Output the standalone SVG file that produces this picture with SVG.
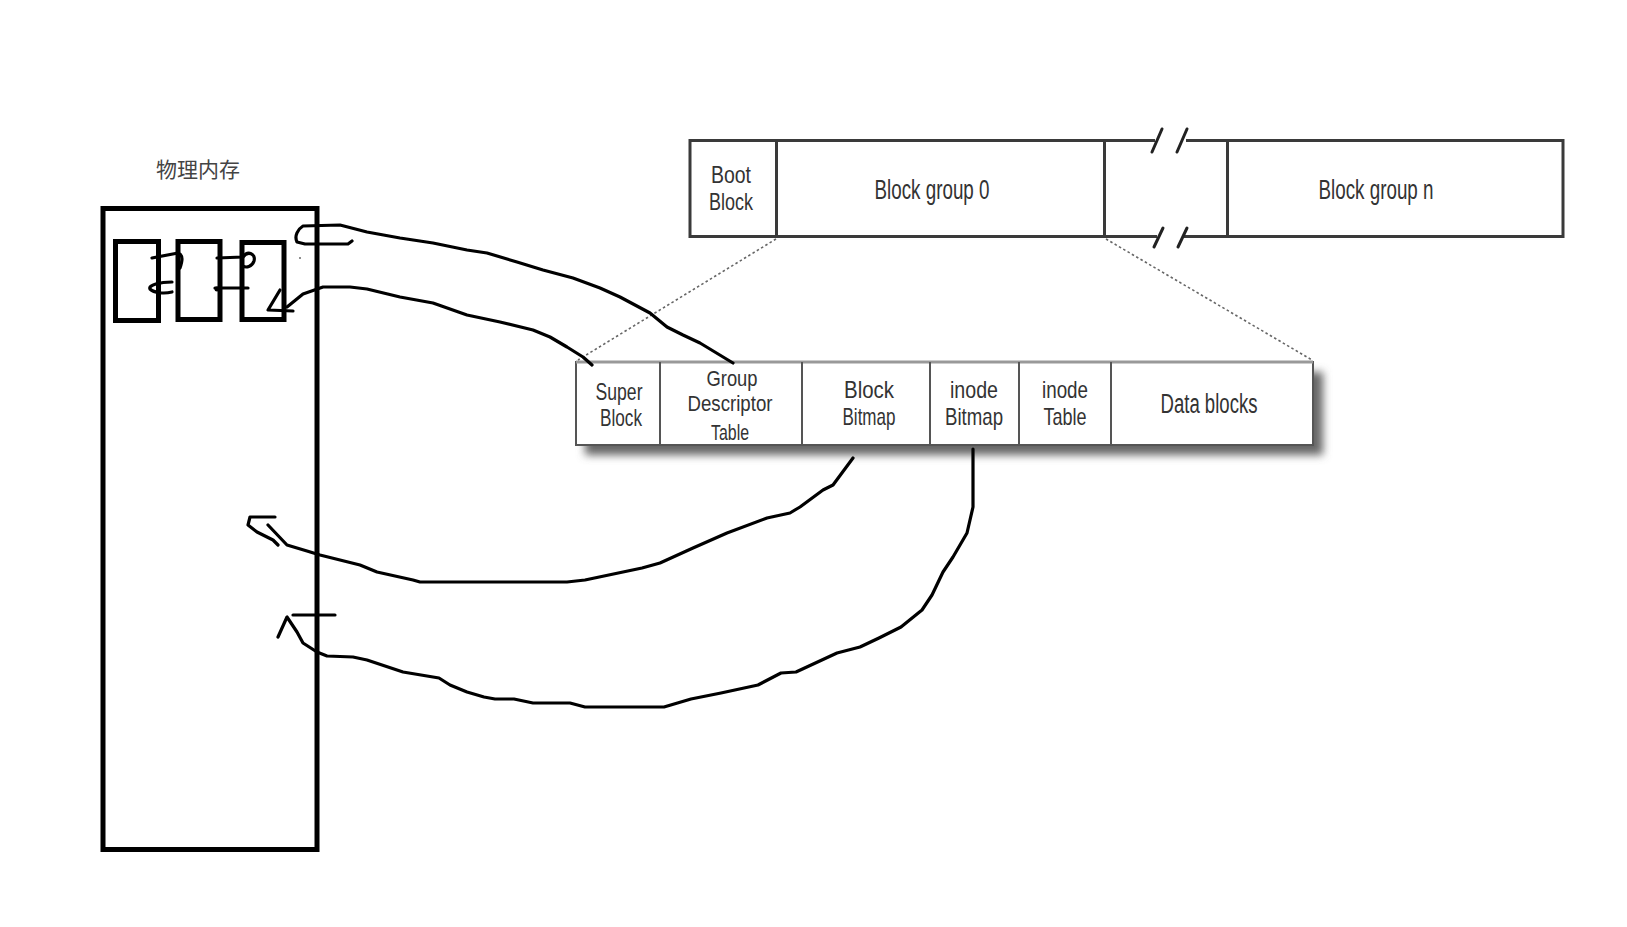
<svg xmlns="http://www.w3.org/2000/svg" width="1627" height="927" viewBox="0 0 1627 927">
<defs>
<style>
.lbl{font-family:"Liberation Sans",Arial,sans-serif;font-size:27px;fill:#333;text-anchor:middle}
.sm{font-size:24px}
.xs{font-size:22px}
.cjk{font-family:"Noto Sans CJK SC","Noto Sans",sans-serif;font-size:21px;fill:#444}
.top{fill:#fff;stroke:#3a3a3a;stroke-width:3}
.sub{fill:#fff;stroke:#555;stroke-width:2}
.dot{fill:none;stroke:#666;stroke-width:1.6;stroke-dasharray:2.5 2.5}
.ink{fill:none;stroke:#000;stroke-width:3.2;stroke-linecap:round;stroke-linejoin:round}
.mem{fill:#fff;stroke:#000;stroke-width:5}
.cell{fill:#fff;stroke:#000;stroke-width:5}
</style>
<filter id="shadow" x="-5%" y="-30%" width="115%" height="170%">
<feGaussianBlur stdDeviation="4"/>
</filter>
</defs>

<g id="memory">
<text class="cjk" x="156" y="177">物理内存</text>
<rect class="mem" x="103" y="208.5" width="214" height="641"/>
<rect class="cell" x="115.5" y="241.5" width="43" height="79"/>
<rect class="cell" x="178" y="241.5" width="42" height="78"/>
<rect class="cell" x="242" y="242.5" width="42" height="77"/>
</g>

<g id="disk-top">
<rect class="top" x="690" y="140.5" width="873" height="96"/>
<rect x="1148" y="136" width="46" height="8" fill="#fff"/>
<rect x="1148" y="233" width="46" height="8" fill="#fff"/>
<line x1="1104.5" y1="140.5" x2="1155" y2="140.5" stroke="#3a3a3a" stroke-width="3"/>
<line x1="1186" y1="140.5" x2="1228" y2="140.5" stroke="#3a3a3a" stroke-width="3"/>
<line x1="1104.5" y1="236.5" x2="1157" y2="236.5" stroke="#3a3a3a" stroke-width="3"/>
<line x1="1184" y1="236.5" x2="1228" y2="236.5" stroke="#3a3a3a" stroke-width="3"/>
<line x1="776.5" y1="140.5" x2="776.5" y2="236.5" stroke="#3a3a3a" stroke-width="3"/>
<line x1="1104.5" y1="140.5" x2="1104.5" y2="236.5" stroke="#3a3a3a" stroke-width="3"/>
<line x1="1227.5" y1="140.5" x2="1227.5" y2="236.5" stroke="#3a3a3a" stroke-width="3"/>
<g stroke="#222" stroke-width="3" stroke-linecap="round">
<line x1="1152" y1="152" x2="1162" y2="129"/>
<line x1="1177" y1="152" x2="1187" y2="129"/>
<line x1="1154" y1="247" x2="1163" y2="228"/>
<line x1="1178" y1="247" x2="1187" y2="228"/>
</g>
<text class="lbl sm" x="731" y="183" textLength="40" lengthAdjust="spacingAndGlyphs">Boot</text>
<text class="lbl sm" x="731" y="210" textLength="44" lengthAdjust="spacingAndGlyphs">Block</text>
<text class="lbl" x="932" y="199" textLength="115" lengthAdjust="spacingAndGlyphs">Block group 0</text>
<text class="lbl" x="1376" y="199" textLength="115" lengthAdjust="spacingAndGlyphs">Block group n</text>
</g>

<g id="group-detail">
<rect x="585" y="372" width="738" height="83" fill="#666" filter="url(#shadow)"/>
<rect class="sub" x="576" y="362" width="737" height="83"/>
<line x1="576" y1="362" x2="1313" y2="362" stroke="#999" stroke-width="3"/>
<g stroke="#555" stroke-width="2">
<line x1="660" y1="362" x2="660" y2="445"/>
<line x1="802" y1="362" x2="802" y2="445"/>
<line x1="930" y1="362" x2="930" y2="445"/>
<line x1="1019" y1="362" x2="1019" y2="445"/>
<line x1="1111" y1="362" x2="1111" y2="445"/>
</g>
<text class="lbl sm" x="619" y="400" textLength="47" lengthAdjust="spacingAndGlyphs">Super</text>
<text class="lbl sm" x="621" y="426" textLength="42" lengthAdjust="spacingAndGlyphs">Block</text>
<text class="lbl xs" x="732" y="386" textLength="51" lengthAdjust="spacingAndGlyphs">Group</text>
<text class="lbl xs" x="730" y="411" textLength="85" lengthAdjust="spacingAndGlyphs">Descriptor</text>
<text class="lbl xs" x="730" y="440" textLength="38" lengthAdjust="spacingAndGlyphs">Table</text>
<text class="lbl sm" x="869" y="398" textLength="50" lengthAdjust="spacingAndGlyphs">Block</text>
<text class="lbl sm" x="869" y="425" textLength="53" lengthAdjust="spacingAndGlyphs">Bitmap</text>
<text class="lbl sm" x="974" y="398" textLength="48" lengthAdjust="spacingAndGlyphs">inode</text>
<text class="lbl sm" x="974" y="425" textLength="58" lengthAdjust="spacingAndGlyphs">Bitmap</text>
<text class="lbl sm" x="1065" y="398" textLength="46" lengthAdjust="spacingAndGlyphs">inode</text>
<text class="lbl sm" x="1065" y="425" textLength="43" lengthAdjust="spacingAndGlyphs">Table</text>
<text class="lbl" x="1209" y="413" textLength="97" lengthAdjust="spacingAndGlyphs">Data blocks</text>
</g>

<g id="connectors">
<line class="dot" x1="776" y1="239" x2="578" y2="360"/>
<line class="dot" x1="1106" y1="239" x2="1312" y2="360"/>

<path class="ink" d="M152,258 L178,253 C184,255 182,262 180,268"/>
<path class="ink" d="M217,258 L243,257 C248,250 256,254 254,261 C252,267 246,268 243,266"/>
<path class="ink" d="M172,282 C160,282 148,285 150,289 C154,293 164,294 172,292"/>
<path class="ink" d="M215,288 L248,288"/>
<circle cx="217" cy="289" r="2.5" fill="#000"/>
<circle cx="300" cy="258" r="0.8" fill="#000"/>

<path class="ink" d="M352,241 L348,244 L305,244 L297,242 C294,236 298,229 303,226 L340,225 L367,232 L400,238 L433,243 L467,250 L487,253 L517,262 L543,270 L573,278 L600,288 L620,297 L650,313 L667,327 L683,335 L700,343 L733,363"/>
<path class="ink" d="M592,365 L583,357 L567,347 L550,337 L533,330 L500,322 L467,315 L433,303 L400,297 L367,289 L350,287 L323,287 L303,294 L287,307"/>
<path class="ink" d="M280,290 L268,310 L293,311"/>

<path class="ink" d="M853,458 L833,485 L823,490 L800,507 L790,513 L767,518 L727,533 L693,548 L660,563 L642,568 L585,580 L567,582 L420,582 L413,580 L377,572 L360,565 L320,555 L307,551 L287,545 L268,525"/>
<path class="ink" d="M275,517 L250,517 L248,525 L257,532 L273,540 L278,545"/>

<path class="ink" d="M973,449 L973,507 L967,533 L953,557 L943,572 L932,595 L922,610 L901,627 L879,638 L860,647 L837,653 L796,672 L781,673 L758,685 L721,693 L691,699 L664,707 L585,707 L570,703 L533,703 L514,699 L495,699 L484,697 L467,692 L450,685 L439,678 L427,676 L403,672 L367,660 L353,657 L327,656 L317,652 L303,643 L297,632 L287,617 L278,637"/>
<path class="ink" d="M293,615 L335,615"/>
</g>
</svg>
